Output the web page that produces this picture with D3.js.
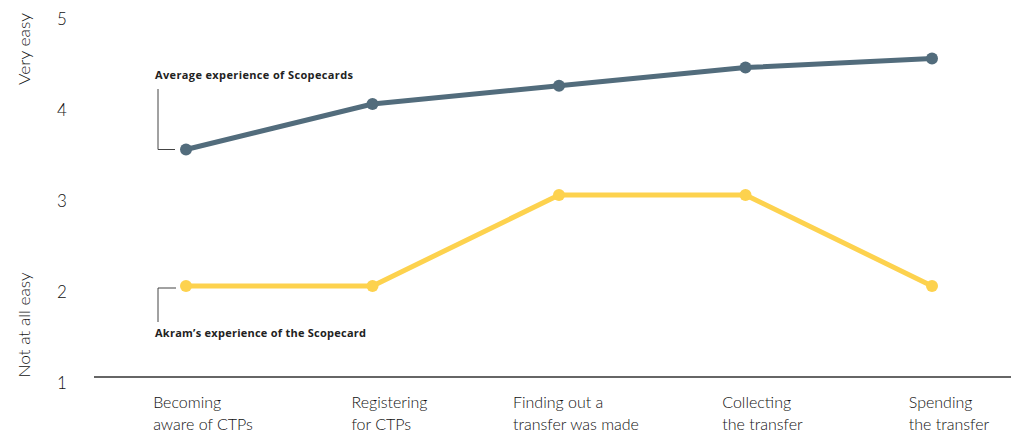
<!DOCTYPE html>
<html>
<head>
<meta charset="utf-8">
<script src="https://cdn.jsdelivr.net/npm/d3@7/dist/d3.min.js"></script>
<style>
  html, body { margin: 0; padding: 0; background: #fff; }
  svg { display: block; font-family: Lato, "Open Sans", sans-serif; }
</style>
</head>
<body>
<svg id="chart" width="1011" height="435"></svg>
<script>
const categories = [
  ["Becoming", "aware of CTPs"],
  ["Registering", "for CTPs"],
  ["Finding out a", "transfer was made"],
  ["Collecting", "the transfer"],
  ["Spending", "the transfer"]
];
const averageValues = [3.5, 4.0, 4.2, 4.4, 4.5];
const akramValues = [2, 2, 3, 3, 2];
const yTicks = [1, 2, 3, 4, 5];
const seriesNames = ["Average experience of Scopecards", "Akram\u2019s experience of the Scopecard"];
const axisLabels = ["Very easy", "Not at all easy"];

const svg = d3.select("#chart");
const BLUE = "#526c7c", YELLOW = "#fdd24e", INK = "#222";

const x = d3.scalePoint().domain(d3.range(categories.length)).range([186, 932]);
const y = d3.scaleLinear().domain([1, 5]).range([377, 13]);

// baseline
svg.append("line").attr("x1", 94).attr("x2", 1011)
  .attr("y1", y(1)).attr("y2", y(1))
  .attr("stroke", "#333").attr("stroke-width", 1.5);

// y tick labels
svg.append("g").selectAll("text").data(yTicks).join("text")
  .attr("x", 62).attr("y", d => y(d) + 6)
  .attr("dy", "0.35em").attr("text-anchor", "middle")
  .attr("font-size", 17).attr("font-weight", 300).attr("fill", "#111")
  .text(d => d);

// rotated axis labels
const rot = [[49, axisLabels[0], 72], [325, axisLabels[1], 105]];
rot.forEach(([cy, txt, len]) => {
  svg.append("text").attr("transform", `translate(30,${cy}) rotate(-90)`)
    .attr("text-anchor", "middle").attr("font-size", 16.5).attr("font-weight", 300).attr("fill", "#111")
    .attr("textLength", len).attr("lengthAdjust", "spacingAndGlyphs")
    .text(txt);
});

// category labels
const catG = svg.append("g");
categories.forEach((lines, i) => {
  const t = catG.append("text").attr("font-size", 16).attr("font-weight", 300).attr("fill", "#111");
  const spans = lines.map((l, j) => t.append("tspan").attr("y", 408 + j * 22).text(l));
  const w = d3.max(spans, s => s.node().getComputedTextLength());
  const left = x(i) + 17 - w / 2;
  spans.forEach(s => s.attr("x", left));
});

// series
const line = d3.line().x((d, i) => x(i)).y(d => y(d));
function drawSeries(vals, color) {
  svg.append("path").datum(vals).attr("d", line)
    .attr("fill", "none").attr("stroke", color).attr("stroke-width", 5)
    .attr("stroke-linejoin", "round");
  svg.append("g").selectAll("circle").data(vals).join("circle")
    .attr("cx", (d, i) => x(i)).attr("cy", d => y(d)).attr("r", 6).attr("fill", color);
}
drawSeries(averageValues, BLUE);
drawSeries(akramValues, YELLOW);

// annotations
const bx = 158;
const annFont = "'Open Sans', Lato, sans-serif";
svg.append("path")
  .attr("d", `M${bx},89 V${y(averageValues[0])} H${x(0) - 11}`)
  .attr("fill", "none").attr("stroke", "#444").attr("stroke-width", 1);
svg.append("text").attr("x", 155).attr("y", 79).attr("font-family", annFont)
  .attr("font-size", 11).attr("font-weight", 700).attr("fill", INK)
  .attr("textLength", 198).attr("lengthAdjust", "spacing").text(seriesNames[0]);

svg.append("path")
  .attr("d", `M${x(0) - 10},${y(akramValues[0]) + 2} H${bx} V322`)
  .attr("fill", "none").attr("stroke", "#444").attr("stroke-width", 1);
svg.append("text").attr("x", 155).attr("y", 337).attr("font-family", annFont)
  .attr("font-size", 11).attr("font-weight", 700).attr("fill", INK)
  .attr("textLength", 211).attr("lengthAdjust", "spacing").text(seriesNames[1]);
</script>
</body>
</html>
